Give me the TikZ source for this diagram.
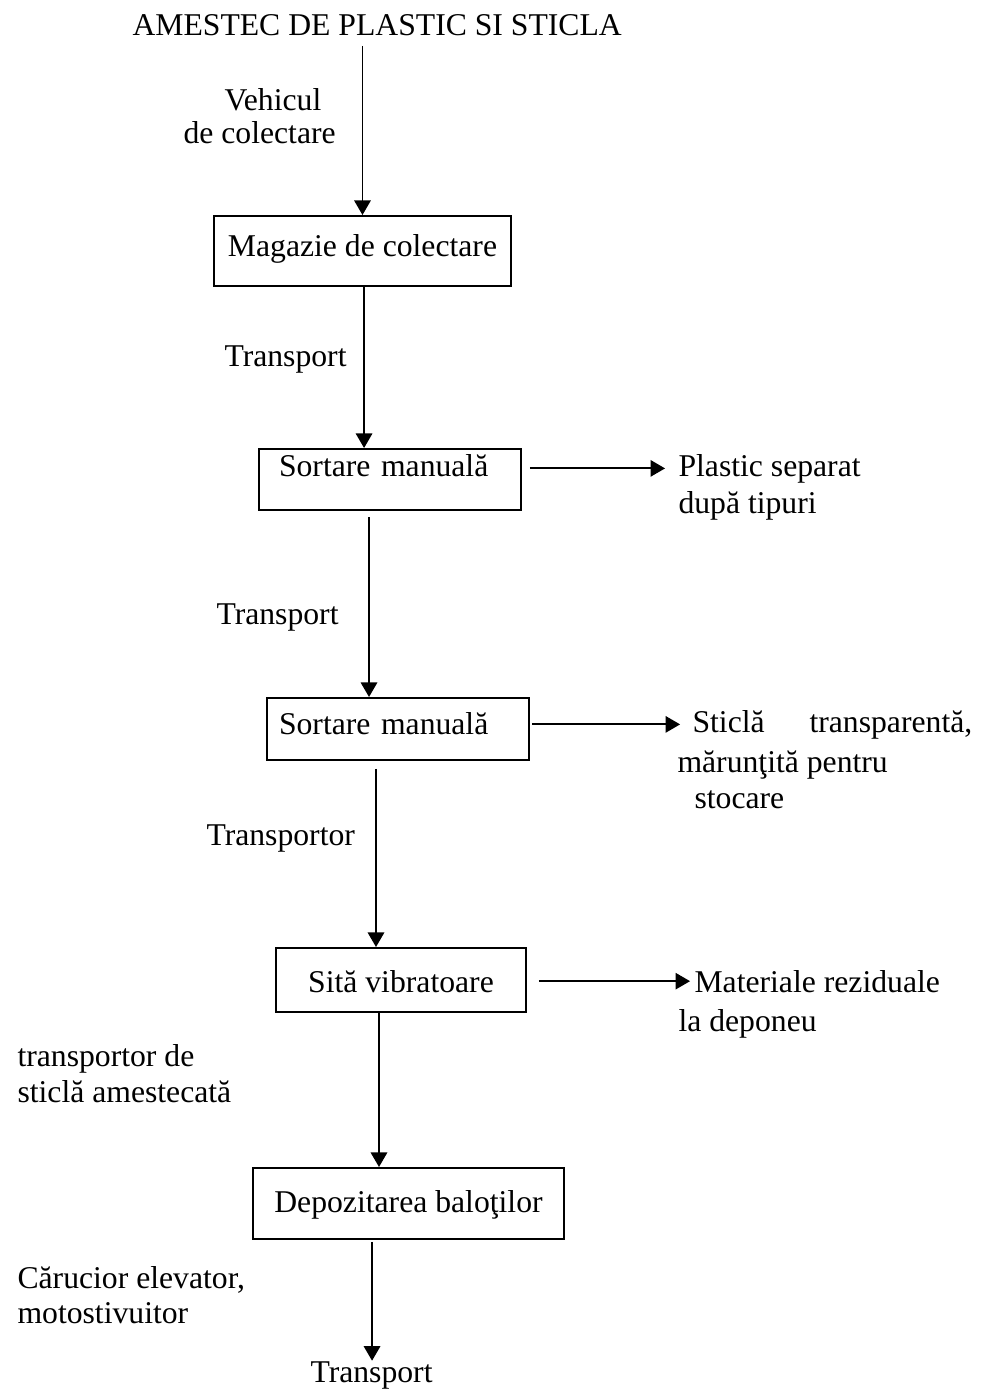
\documentclass[tikz,border=0pt]{standalone}
\usepackage{fontspec}
\setmainfont{Liberation Serif}
\usetikzlibrary{arrows.meta}
\tikzset{
  stepbox/.style={draw, line width=0.75pt, inner ysep=0pt},
  lbl/.style={inner sep=0pt, anchor=base west},
  flow/.style={line width=0.7pt, -{Triangle[length=5.5pt,width=6.2pt]}}
}
\begin{document}
\begin{tikzpicture}[x=0.3788pt, y=-0.3788pt, font=\fontsize{12pt}{13.7pt}\selectfont]
\useasboundingbox (0,0) rectangle (984,1392);

% steps of the flow
\node[stepbox, anchor=north west, minimum width=112.5pt, text height=15.5pt, text depth=11pt] (magazie) at (213,215) {Magazie de colectare};
\node[stepbox, anchor=north west, align=left, text width=84.1pt, inner xsep=7.58pt, text height=10.6pt, text depth=12.5pt] (sortA) at (258,448) {Sortare manuală};
\node[stepbox, anchor=north west, align=left, text width=90.15pt, inner xsep=4.55pt, text height=14pt, text depth=9.5pt] (sortB) at (266,697) {Sortare manuală};
\node[stepbox, anchor=north west, minimum width=94.7pt, text height=17pt, text depth=7.2pt] (sita) at (275,947) {Sită vibratoare};
\node[stepbox, anchor=north west, minimum width=117.8pt, text height=17pt, text depth=9.85pt] (depoz) at (252,1167) {Depozitarea baloţilor};

% texts
\node[lbl] (title) at (132,35) {AMESTEC DE PLASTIC SI STICLA};
\node[lbl] (vehA) at (224,110) {Vehicul};
\node[lbl] (vehB) at (183,143) {de colectare};
\node[lbl] (trA) at (224,366) {Transport};
\node[lbl] (plasA) at (678,476) {Plastic separat};
\node[lbl] (plasB) at (678,513) {după tipuri};
\node[lbl] (trB) at (216,624) {Transport};
\node[lbl] (sticA) at (692,732) {Sticlă\hspace{17pt}transparentă,};
\node[lbl] (sticB) at (677,772) {mărunţită pentru};
\node[lbl] (sticC) at (694,808) {stocare};
\node[lbl] (trC) at (206,845) {Transportor};
\node[lbl] (matA) at (694,992) {Materiale reziduale};
\node[lbl] (matB) at (678,1031) {la deponeu};
\node[lbl] (amA) at (17,1066) {transportor de};
\node[lbl] (amB) at (17,1102) {sticlă amestecată};
\node[lbl] (carA) at (17,1288) {Cărucior elevator,};
\node[lbl] (carB) at (17,1323) {motostivuitor};
\node[lbl] (final) at (310,1382) {Transport};

% downward arrows
\draw[flow, shorten <=3.8pt] (title.south -| magazie.north) -- (magazie.north);
\coordinate (c2) at ([xshift=0.6pt]magazie.south);
\draw[flow] (c2) -- (c2 |- sortA.north);
\coordinate (c3) at ([xshift=-7.95pt]sortA.south);
\draw[flow, shorten <=2.3pt] (c3) -- (c3 |- sortB.north);
\coordinate (c4) at ([xshift=-8.33pt]sortB.south);
\draw[flow, shorten <=3pt] (c4) -- (c4 |- sita.north);
\coordinate (c5) at ([xshift=-8.33pt]sita.south);
\draw[flow] (c5) -- (c5 |- depoz.north);
\coordinate (c6) at ([xshift=-13.8pt]depoz.south);
\draw[flow, shorten <=0.75pt] (c6) -- (c6 |- final.north);

% side outputs
\draw[flow, shorten <=3pt, shorten >=4.9pt] (sortA.east |- plasA.west) -- (plasA.west);
\draw[flow, shorten <=0.8pt, shorten >=4.5pt] (sortB.east |- sticA.west) -- (sticA.west);
\draw[flow, shorten <=4.5pt, shorten >=1.5pt] (sita.east |- matA.west) -- (matA.west);
\end{tikzpicture}
\end{document}
